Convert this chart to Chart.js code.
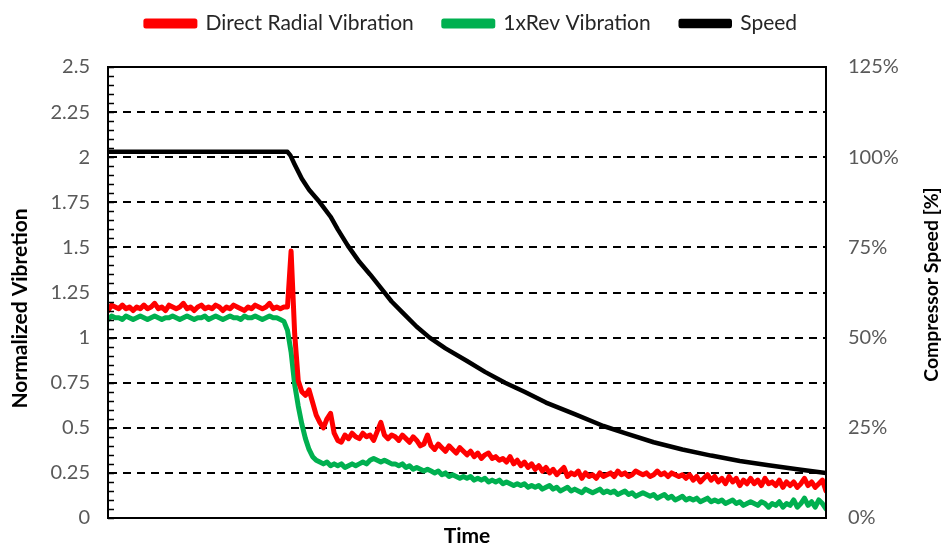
<!DOCTYPE html>
<html>
<head>
<meta charset="utf-8">
<script src="https://cdn.jsdelivr.net/npm/chart.js@4"></script>
<style>
  html, body { margin: 0; padding: 0; background: #fff; }
  #wrap { width: 943px; height: 548px; position: relative; }
</style>
</head>
<body>
<div id="wrap"><canvas id="coastdown"></canvas></div>
<script>
  // Vibration samples are logged every 0.5 time units from 0 to 100
  const sampleStep = 0.5;

  const directRadial = [
    1.15,1.18,1.17,1.16,1.18,1.16,1.17,1.15,1.17,1.16,
    1.18,1.16,1.17,1.19,1.16,1.17,1.15,1.18,1.17,1.16,
    1.17,1.19,1.16,1.17,1.15,1.17,1.18,1.16,1.17,1.16,
    1.18,1.17,1.15,1.17,1.16,1.18,1.17,1.16,1.15,1.17,
    1.16,1.18,1.17,1.16,1.17,1.19,1.16,1.17,1.16,1.17,
    1.17,1.48,1.02,0.76,0.70,0.68,0.71,0.64,0.57,0.53,
    0.50,0.55,0.58,0.47,0.43,0.42,0.46,0.44,0.47,0.45,
    0.44,0.47,0.45,0.46,0.43,0.48,0.53,0.46,0.44,0.46,
    0.45,0.43,0.46,0.44,0.42,0.45,0.43,0.40,0.41,0.46,
    0.40,0.38,0.41,0.39,0.37,0.40,0.38,0.36,0.39,0.37,
    0.35,0.37,0.34,0.36,0.33,0.35,0.36,0.33,0.34,0.32,
    0.33,0.31,0.34,0.30,0.32,0.29,0.31,0.28,0.30,0.27,
    0.29,0.26,0.28,0.25,0.27,0.24,0.26,0.28,0.23,0.25,
    0.24,0.26,0.22,0.25,0.23,0.24,0.22,0.25,0.23,0.24,
    0.25,0.23,0.26,0.24,0.25,0.23,0.24,0.26,0.25,0.24,
    0.25,0.23,0.24,0.26,0.24,0.25,0.23,0.25,0.24,0.23,
    0.24,0.22,0.24,0.21,0.23,0.20,0.22,0.24,0.21,0.23,
    0.20,0.22,0.19,0.23,0.20,0.22,0.18,0.21,0.19,0.22,
    0.19,0.21,0.18,0.22,0.19,0.20,0.18,0.21,0.17,0.20,
    0.18,0.20,0.17,0.19,0.22,0.18,0.20,0.17,0.19,0.21,0.15
  ];

  const oneXRev = [
    1.10,1.12,1.11,1.11,1.10,1.12,1.11,1.10,1.11,1.12,
    1.11,1.10,1.11,1.12,1.11,1.10,1.11,1.11,1.12,1.11,
    1.10,1.11,1.12,1.11,1.10,1.11,1.11,1.12,1.10,1.11,
    1.12,1.11,1.10,1.11,1.12,1.11,1.11,1.10,1.12,1.11,
    1.11,1.12,1.11,1.10,1.11,1.12,1.11,1.11,1.10,1.09,
    1.04,0.92,0.74,0.62,0.52,0.44,0.38,0.34,0.32,0.31,
    0.30,0.31,0.29,0.30,0.29,0.30,0.28,0.29,0.30,0.29,
    0.30,0.31,0.30,0.32,0.33,0.32,0.31,0.32,0.31,0.30,
    0.30,0.29,0.30,0.28,0.29,0.27,0.28,0.27,0.26,0.27,
    0.26,0.25,0.26,0.24,0.25,0.23,0.24,0.23,0.22,0.23,
    0.22,0.23,0.21,0.22,0.21,0.22,0.20,0.21,0.20,0.21,
    0.19,0.20,0.19,0.18,0.19,0.18,0.19,0.17,0.18,0.17,
    0.18,0.16,0.17,0.18,0.16,0.17,0.15,0.16,0.17,0.15,
    0.16,0.15,0.14,0.16,0.15,0.14,0.15,0.16,0.14,0.15,
    0.14,0.15,0.13,0.14,0.15,0.13,0.14,0.12,0.13,0.14,
    0.13,0.12,0.13,0.11,0.12,0.13,0.11,0.12,0.10,0.11,
    0.12,0.10,0.11,0.10,0.11,0.09,0.10,0.11,0.09,0.10,
    0.09,0.10,0.08,0.09,0.10,0.08,0.09,0.07,0.08,0.09,
    0.08,0.07,0.09,0.08,0.06,0.08,0.07,0.09,0.06,0.08,
    0.07,0.10,0.06,0.08,0.11,0.07,0.09,0.06,0.10,0.08,0.05
  ];

  // Speed trace (percent of rated), sampled where the curve bends
  const speedTime = [0, 25, 25.4, 26, 27, 28, 29.5, 31, 32, 33.4, 35, 36.5, 38.3, 39.5, 41, 43, 44.8,
                     47, 50, 52.5, 55.3, 58, 61, 65, 69, 72, 76, 80, 84, 88, 92, 96, 100];
  const speedPct  = [101.5, 101.5, 100.5, 98, 94, 91, 87.5, 83.5, 80, 75.5, 71, 67.5, 63, 60, 57, 53, 50,
                     47, 43.5, 40.5, 37.5, 35, 32, 28.8, 25.5, 23.5, 21, 19, 17.3, 15.8, 14.6, 13.5, 12.5];

  const seriesNames = ['Direct Radial Vibration', '1xRev Vibration', 'Speed'];
  const seriesColors = ['#ff0000', '#00b050', '#000000'];
  const axisTitles = ['Normalized Vibretion', 'Compressor Speed [%]', 'Time'];

  const FONT = 'Lato, "Open Sans", sans-serif';
  const LEGEND_TOP = -17;   // legend box starts above the canvas edge
  const PLOT_TOP = 67;

  function toPoints(values) {
    return values.map((v, i) => ({ x: i * sampleStep, y: v }));
  }

  // Stretch the legend box so the plot starts at PLOT_TOP
  const legendHeight = {
    id: 'legendHeight',
    beforeLayout(chart) {
      const lg = chart.legend;
      if (lg && !lg._fixedFit) {
        const fit = lg.fit.bind(lg);
        lg.fit = function () {
          fit();
          this.height = PLOT_TOP - LEGEND_TOP;
        };
        lg._fixedFit = true;
      }
    }
  };

  // Rotated bold title, sized so it spans `length` pixels
  function verticalTitle(ctx, text, x, y, length) {
    ctx.save();
    ctx.font = 'bold 20px ' + FONT;
    const size = 20 * length / ctx.measureText(text).width;
    ctx.font = 'bold ' + size.toFixed(1) + 'px ' + FONT;
    ctx.translate(x, y);
    ctx.rotate(-Math.PI / 2);
    ctx.fillStyle = '#000';
    ctx.textAlign = 'center';
    ctx.textBaseline = 'middle';
    ctx.fillText(text, 0, 0);
    ctx.restore();
  }

  // Plot frame, inner minor ticks on the left axis and both vertical axis titles
  const framePlugin = {
    id: 'frame',
    afterDraw(chart) {
      const ctx = chart.ctx;
      const a = chart.chartArea;
      const y = chart.scales.y;
      ctx.save();
      ctx.strokeStyle = '#000';
      ctx.lineWidth = 2;
      ctx.strokeRect(a.left, a.top, a.right - a.left, a.bottom - a.top);

      ctx.lineWidth = 1.5;
      ctx.beginPath();
      for (let i = 0; i <= 50; i++) {
        const py = Math.round(y.getPixelForValue(i * 0.05)) + 0.5;
        ctx.moveTo(a.left, py);
        ctx.lineTo(a.left + 6, py);
      }
      ctx.stroke();
      ctx.restore();

      const mid = (a.top + a.bottom) / 2;
      verticalTitle(ctx, axisTitles[0], 20, mid + 16, 200);
      verticalTitle(ctx, axisTitles[1], 932, mid - 8, 194);
    }
  };

  new Chart(document.getElementById('coastdown'), {
    type: 'line',
    data: {
      datasets: [
        {
          label: seriesNames[0],
          data: toPoints(directRadial),
          borderColor: seriesColors[0],
          backgroundColor: seriesColors[0],
          borderWidth: 5,
          yAxisID: 'y'
        },
        {
          label: seriesNames[1],
          data: toPoints(oneXRev),
          borderColor: seriesColors[1],
          backgroundColor: seriesColors[1],
          borderWidth: 5,
          yAxisID: 'y'
        },
        {
          label: seriesNames[2],
          data: speedTime.map((t, i) => ({ x: t, y: speedPct[i] })),
          borderColor: seriesColors[2],
          backgroundColor: seriesColors[2],
          borderWidth: 4.5,
          yAxisID: 'y2'
        }
      ]
    },
    options: {
      responsive: true,
      maintainAspectRatio: false,
      animation: false,
      layout: { padding: { top: LEGEND_TOP, left: 0, right: 0, bottom: 0 } },
      elements: {
        point: { radius: 0 },
        line: { tension: 0, borderCapStyle: 'round', borderJoinStyle: 'round' }
      },
      plugins: {
        legend: {
          position: 'top',
          labels: {
            font: { family: FONT, size: 21 },
            color: '#262626',
            boxWidth: 49,
            boxHeight: 5,
            padding: 30
          }
        },
        tooltip: { enabled: false }
      },
      scales: {
        x: {
          type: 'linear',
          min: 0,
          max: 100,
          ticks: { display: false },
          grid: { display: false },
          border: { color: '#000', width: 2 },
          title: {
            display: true,
            text: axisTitles[2],
            font: { family: FONT, size: 21, weight: 'bold' },
            color: '#000',
            padding: { top: 0, bottom: -1 }
          },
          afterFit(scale) { scale.height = 30; }
        },
        y: {
          position: 'left',
          min: 0,
          max: 2.5,
          ticks: {
            stepSize: 0.25,
            padding: 2,
            color: '#595959',
            font: { family: FONT, size: 20 },
            callback: (v) => String(Number(v.toFixed(2)))
          },
          grid: {
            color: '#000',
            lineWidth: (c) => (c.tick.value === 0 || c.tick.value === 2.5) ? 0 : 2,
            drawTicks: true,
            tickLength: 16,
            tickColor: 'rgba(0,0,0,0)'
          },
          border: { color: '#000', width: 2, dash: [8, 6] },
          afterFit(scale) { scale.width = 108; }
        },
        y2: {
          position: 'right',
          min: 0,
          max: 125,
          ticks: {
            stepSize: 25,
            padding: 2,
            color: '#595959',
            font: { family: FONT, size: 20 },
            callback: (v) => v + '%'
          },
          grid: {
            drawOnChartArea: false,
            drawTicks: true,
            tickLength: 20,
            tickColor: 'rgba(0,0,0,0)'
          },
          border: { color: '#000', width: 2 },
          afterFit(scale) { scale.width = 117; }
        }
      }
    },
    plugins: [legendHeight, framePlugin]
  });
</script>
</body>
</html>
